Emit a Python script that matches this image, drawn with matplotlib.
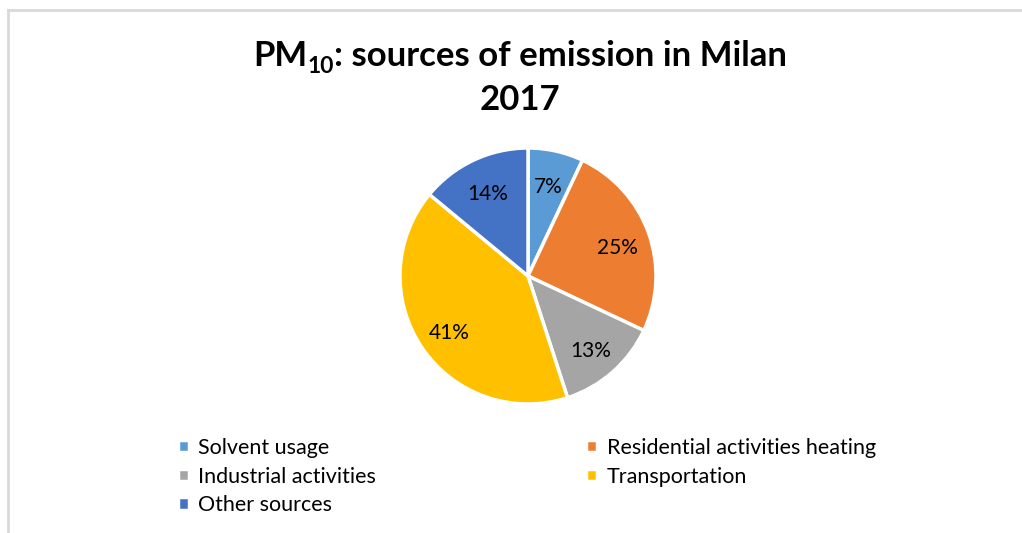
import matplotlib.pyplot as plt
from matplotlib.lines import Line2D

categories = ["Solvent usage", "Residential activities heating",
              "Industrial activities", "Transportation", "Other sources"]
shares = [7, 25, 13, 41, 14]
colors = ["#5B9BD5", "#ED7D31", "#A5A5A5", "#FFC000", "#4472C4"]

plt.rcParams['font.family'] = ['Lato', 'DejaVu Sans']

W, H = 1022, 533
fig = plt.figure(figsize=(W / 100, H / 100), dpi=100)

# chart frame (top and left edges)
fig.add_artist(Line2D([8/W, 1.0], [1 - 10/H, 1 - 10/H],
                      transform=fig.transFigure, color="#d9d9d9", lw=2))
fig.add_artist(Line2D([8/W, 8/W], [0, 1 - 10/H],
                      transform=fig.transFigure, color="#d9d9d9", lw=2))

# title: bold text with a bold subscript, assembled piece by piece and centred
renderer = fig.canvas.get_renderer()
title_y = 1 - 66/H
pieces = [("PM", 25, 0), ("10", 16.5, -7), (": sources of emission in Milan", 25, 0)]
artists = []
for s, size, dy in pieces:
    t = fig.text(0, title_y + dy / H, s, ha="left", va="baseline",
                 fontsize=size, fontweight="bold")
    artists.append(t)
widths = [a.get_window_extent(renderer).width for a in artists]
x = 520 - sum(widths) / 2
for a, w in zip(artists, widths):
    a.set_x(x / W)
    x += w
fig.text(520/W, 1 - 100/H, "2017",
         ha="center", va="center", fontsize=25, fontweight="bold")

r = 128
cx, cy = 528, 276
ax = fig.add_axes([(cx - r) / W, 1 - (cy + r) / H, 2 * r / W, 2 * r / H])
wedges, texts, autotexts = ax.pie(
    shares, colors=colors, startangle=90, counterclock=False,
    autopct=lambda p: f"{p:.0f}%", pctdistance=0.74,
    wedgeprops=dict(edgecolor="white", linewidth=2.5),
    textprops=dict(fontsize=15, color="black"))
for t in autotexts:
    px, py = t.get_position()
    t.set_position((px, py - 0.03))
ax.set_xlim(-1, 1)
ax.set_ylim(-1, 1)
ax.set_aspect("equal")

# legend filled row by row: two columns
order = [0, 2, 4, 1, 3]
fig.legend([wedges[i] for i in order], [categories[i] for i in order],
           ncol=2, loc="upper left", bbox_to_anchor=(178/W, 1 - 438/H),
           frameon=False, fontsize=15.5, handlelength=0.5, handleheight=0.5,
           handletextpad=0.45, columnspacing=9.75, labelspacing=0.4,
           borderpad=0, borderaxespad=0)

fig.savefig("out.png", dpi=100)
